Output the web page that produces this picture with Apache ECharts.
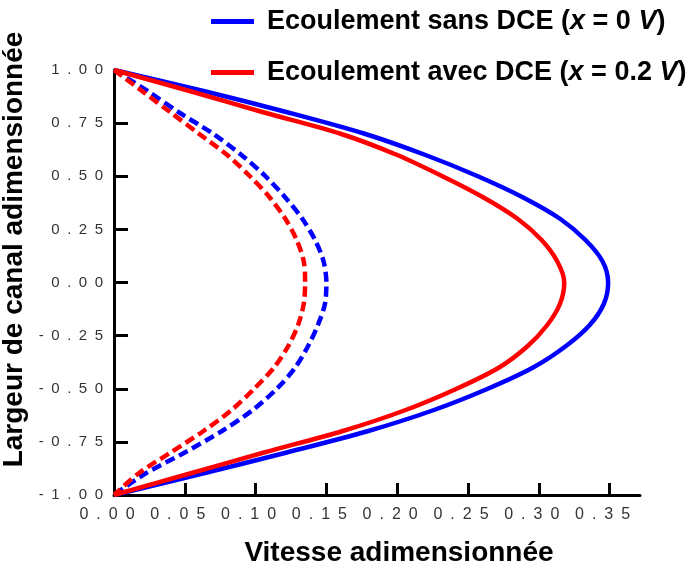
<!DOCTYPE html>
<html>
<head>
<meta charset="utf-8">
<script src="https://cdn.jsdelivr.net/npm/echarts@6/dist/echarts.min.js"></script>
<style>html,body{margin:0;padding:0;background:#fff}#c{width:691px;height:572px}</style>
</head>
<body>
<div id="c"></div>
<script>
// Channel position (dimensionless width), shared by all curves
var yPos = [1.0, 0.9, 0.8, 0.7, 0.6, 0.5, 0.4, 0.3, 0.2, 0.1, 0.0, -0.1, -0.2, -0.3, -0.4, -0.5, -0.6, -0.7, -0.8, -0.9, -1.0];
// Dimensionless velocity, solid curves
var vSansDCE = [0, 0.064, 0.123, 0.177, 0.220, 0.257, 0.289, 0.315, 0.333, 0.345, 0.349, 0.346, 0.336, 0.319, 0.296, 0.264, 0.226, 0.179, 0.122, 0.062, 0];
var vAvecDCE = [0, 0.054, 0.106, 0.160, 0.200, 0.232, 0.261, 0.285, 0.302, 0.313, 0.318, 0.315, 0.306, 0.292, 0.272, 0.242, 0.206, 0.161, 0.106, 0.053, 0];
// Dimensionless velocity, dashed curves
var vSansDCEdash = [0, 0.024, 0.046, 0.070, 0.090, 0.107, 0.121, 0.133, 0.142, 0.148, 0.150, 0.149, 0.144, 0.137, 0.128, 0.115, 0.098, 0.076, 0.050, 0.022, 0];
var vAvecDCEdash = [0, 0.020, 0.040, 0.060, 0.080, 0.096, 0.110, 0.121, 0.129, 0.134, 0.135, 0.134, 0.130, 0.123, 0.113, 0.099, 0.083, 0.063, 0.040, 0.017, 0];
// Tick values
var xTicks = [0.05, 0.10, 0.15, 0.20, 0.25, 0.30, 0.35];
var xLabels = [0, 0.05, 0.10, 0.15, 0.20, 0.25, 0.30, 0.35];
var yTicks = [-0.75, -0.5, -0.25, 0, 0.25, 0.5, 0.75];
var yLabels = [-1, -0.75, -0.5, -0.25, 0, 0.25, 0.5, 0.75, 1];
var legendNames = ['Ecoulement sans DCE (x = 0 V)', 'Ecoulement avec DCE (x = 0.2 V)'];
var legendRich = {
  'Ecoulement sans DCE (x = 0 V)': '{b|Ecoulement sans DCE (}{i|x}{b| = 0 }{i|V}{b|)}',
  'Ecoulement avec DCE (x = 0.2 V)': '{b|Ecoulement avec DCE (}{i|x}{b| = 0.2 }{i|V}{b|)}'
};

function pairs(v) { return v.map(function (x, i) { return [x, yPos[i]]; }); }
function spaced(s) { return s.split('').join('\u2002'); }

var FONT = 'Liberation Sans, Arial, sans-serif';
var LF = 27;
var SM = 0.3;
var chart = echarts.init(document.getElementById('c'), null, { renderer: 'canvas' });
chart.setOption({
  animation: false,
  backgroundColor: '#ffffff',
  grid: { left: 114, right: 51, top: 70, bottom: 77, containLabel: false, outerBoundsMode: 'none' },
  legend: {
    data: legendNames,
    orient: 'vertical',
    left: 206,
    top: 3,
    itemGap: 24,
    itemWidth: 43,
    itemHeight: 5,
    icon: 'rect',
    formatter: function (n) { return legendRich[n]; },
    textStyle: {
      fontFamily: FONT, fontSize: LF, fontWeight: 'bold', color: '#000', padding: [0, 0, 0, 8],
      rich: {
        b: { fontFamily: FONT, fontSize: LF, fontWeight: 'bold', color: '#000' },
        i: { fontFamily: FONT, fontSize: LF, fontWeight: 'bold', fontStyle: 'italic', color: '#000' }
      }
    }
  },
  xAxis: {
    type: 'value',
    min: 0,
    max: 0.3715,
    interval: 0.05,
    name: 'Vitesse adimensionnée',
    nameLocation: 'middle',
    nameGap: 44,
    nameTextStyle: { fontFamily: FONT, fontSize: 28, fontWeight: 'bold', color: '#000', padding: [0, 0, 0, 44] },
    axisLine: { show: true, onZero: false, lineStyle: { color: '#000', width: 3 } },
    axisTick: { show: true, inside: true, length: 12, customValues: xTicks, lineStyle: { color: '#000', width: 3 } },
    axisLabel: {
      customValues: xLabels,
      margin: 12,
      fontFamily: FONT, fontSize: 16, color: '#333',
      padding: [0, 14, 0, 0],
      formatter: function (v) { return spaced(v.toFixed(2)); }
    },
    splitLine: { show: false }
  },
  yAxis: {
    type: 'value',
    min: -1,
    max: 1,
    interval: 0.25,
    name: 'Largeur de canal adimensionnée',
    nameLocation: 'middle',
    nameGap: 78,
    nameTextStyle: { fontFamily: FONT, fontSize: 28, fontWeight: 'bold', color: '#000', padding: [0, 0, 0, 66] },
    axisLine: { show: true, onZero: false, lineStyle: { color: '#000', width: 3 } },
    axisTick: { show: true, inside: true, length: 14, customValues: yTicks, lineStyle: { color: '#000', width: 3 } },
    axisLabel: {
      customValues: yLabels,
      margin: 11,
      fontFamily: FONT, fontSize: 15, color: '#333',
      formatter: function (v) { return spaced(v.toFixed(2)); }
    },
    splitLine: { show: false }
  },
  series: [
    { name: legendNames[0], type: 'line', data: pairs(vSansDCE), smooth: SM, showSymbol: false, z: 3,
      itemStyle: { color: '#0000ff' }, lineStyle: { color: '#0000ff', width: 4.5, join: 'round' } },
    { name: legendNames[1], type: 'line', data: pairs(vAvecDCE), smooth: SM, showSymbol: false, z: 4,
      itemStyle: { color: '#ff0000' }, lineStyle: { color: '#ff0000', width: 4.5, join: 'round' } },
    { name: 'sans DCE (pointillés)', type: 'line', data: pairs(vSansDCEdash), smooth: SM, showSymbol: false, z: 3,
      itemStyle: { color: '#0000ff' }, lineStyle: { color: '#0000ff', width: 4.5, type: [10, 5] } },
    { name: 'avec DCE (pointillés)', type: 'line', data: pairs(vAvecDCEdash), smooth: SM, showSymbol: false, z: 4,
      itemStyle: { color: '#ff0000' }, lineStyle: { color: '#ff0000', width: 4.5, type: [10, 5] } }
  ]
});
</script>
</body>
</html>
